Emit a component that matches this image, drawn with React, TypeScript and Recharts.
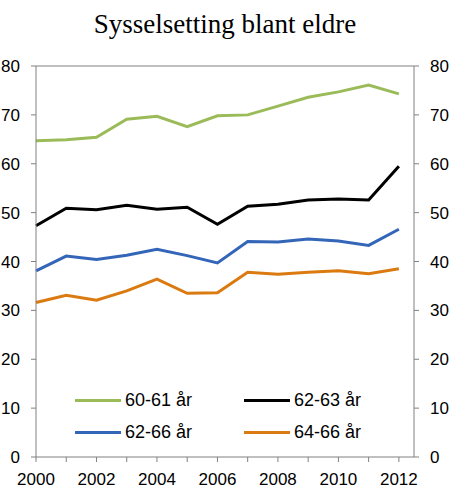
import {
  Legend,
  Line,
  LineChart,
  ReferenceLine,
  XAxis,
  YAxis,
} from "recharts";

const years = [2000, 2001, 2002, 2003, 2004, 2005, 2006, 2007, 2008, 2009, 2010, 2011, 2012];
const age6061 = [64.7, 64.9, 65.4, 69.1, 69.7, 67.6, 69.8, 70.0, 71.8, 73.6, 74.7, 76.1, 74.3];
const age6263 = [47.3, 50.9, 50.6, 51.5, 50.7, 51.1, 47.6, 51.3, 51.7, 52.6, 52.8, 52.6, 59.5];
const age6266 = [38.1, 41.1, 40.4, 41.3, 42.5, 41.2, 39.7, 44.1, 44.0, 44.6, 44.2, 43.3, 46.6];
const age6466 = [31.6, 33.1, 32.1, 34.0, 36.4, 33.5, 33.6, 37.8, 37.4, 37.8, 38.1, 37.5, 38.5];
const yTicks = [0, 10, 20, 30, 40, 50, 60, 70, 80];

const data = years.map((year, i) => ({
  year,
  a: age6061[i],
  b: age6263[i],
  c: age6266[i],
  d: age6466[i],
}));

const AXIS = "#808080";
const tickFont = { fontSize: 17, fill: "#000", fontFamily: "Liberation Sans, Arial, sans-serif" };

function renderLegend(props: any) {
  const items = props.payload || [];
  return (
    <div
      style={{
        display: "grid",
        gridTemplateColumns: "169px 140px",
        fontFamily: "Liberation Sans, Arial, sans-serif",
        fontSize: 18,
        color: "#000",
      }}
    >
      {items.map((it: any) => (
        <div key={it.value} style={{ display: "flex", alignItems: "center", height: 32 }}>
          <span style={{ display: "inline-block", width: 46, height: 3, background: it.color, marginRight: 4 }} />
          <span>{it.value}</span>
        </div>
      ))}
    </div>
  );
}

export default function App() {
  return (
    <div style={{ position: "absolute", left: 0, top: 0, width: 450, height: 501, background: "#fff" }}>
      <div
        style={{
          position: "absolute",
          top: 11,
          left: 0,
          width: 450,
          textAlign: "center",
          fontFamily: "Liberation Serif, Times New Roman, serif",
          fontSize: 27,
          lineHeight: "27px",
          color: "#000",
        }}
      >
        Sysselsetting blant eldre
      </div>
      <LineChart width={450} height={501} data={data} margin={{ top: 66, right: 0, left: 0, bottom: 0 }}>
        <XAxis
          dataKey="year"
          type="number"
          domain={[2000, 2012.5]}
          ticks={years}
          interval={0}
          tickFormatter={(v: number) => (v % 2 === 0 ? String(v) : "")}
          height={44}
          tickSize={5}
          tickMargin={11}
          axisLine={{ stroke: AXIS }}
          tickLine={{ stroke: AXIS }}
          tick={tickFont}
        />
        <YAxis
          yAxisId="left"
          domain={[0, 80]}
          ticks={yTicks}
          width={36}
          tickSize={5}
          tickMargin={11}
          axisLine={{ stroke: AXIS }}
          tickLine={{ stroke: AXIS }}
          tick={tickFont}
        />
        <YAxis
          yAxisId="right"
          orientation="right"
          domain={[0, 80]}
          ticks={yTicks}
          width={36}
          tickSize={5}
          tickMargin={11}
          axisLine={{ stroke: AXIS }}
          tickLine={{ stroke: AXIS }}
          tick={tickFont}
        />
        <ReferenceLine yAxisId="left" y={80} stroke={AXIS} />
        <Line yAxisId="left" dataKey="a" name="60-61 år" stroke="#9BBB59" strokeWidth={3} dot={false} isAnimationActive={false} />
        <Line yAxisId="left" dataKey="b" name="62-63 år" stroke="#000000" strokeWidth={3} dot={false} isAnimationActive={false} />
        <Line yAxisId="right" dataKey="c" name="62-66 år" stroke="#3366B8" strokeWidth={3} dot={false} isAnimationActive={false} />
        <Line yAxisId="right" dataKey="d" name="64-66 år" stroke="#DB7A10" strokeWidth={3} dot={false} isAnimationActive={false} />
        <Legend
          layout="horizontal"
          verticalAlign="middle"
          align="center"
          content={renderLegend}
          wrapperStyle={{ left: 75, top: 384, width: 320 }}
        />
      </LineChart>
    </div>
  );
}
